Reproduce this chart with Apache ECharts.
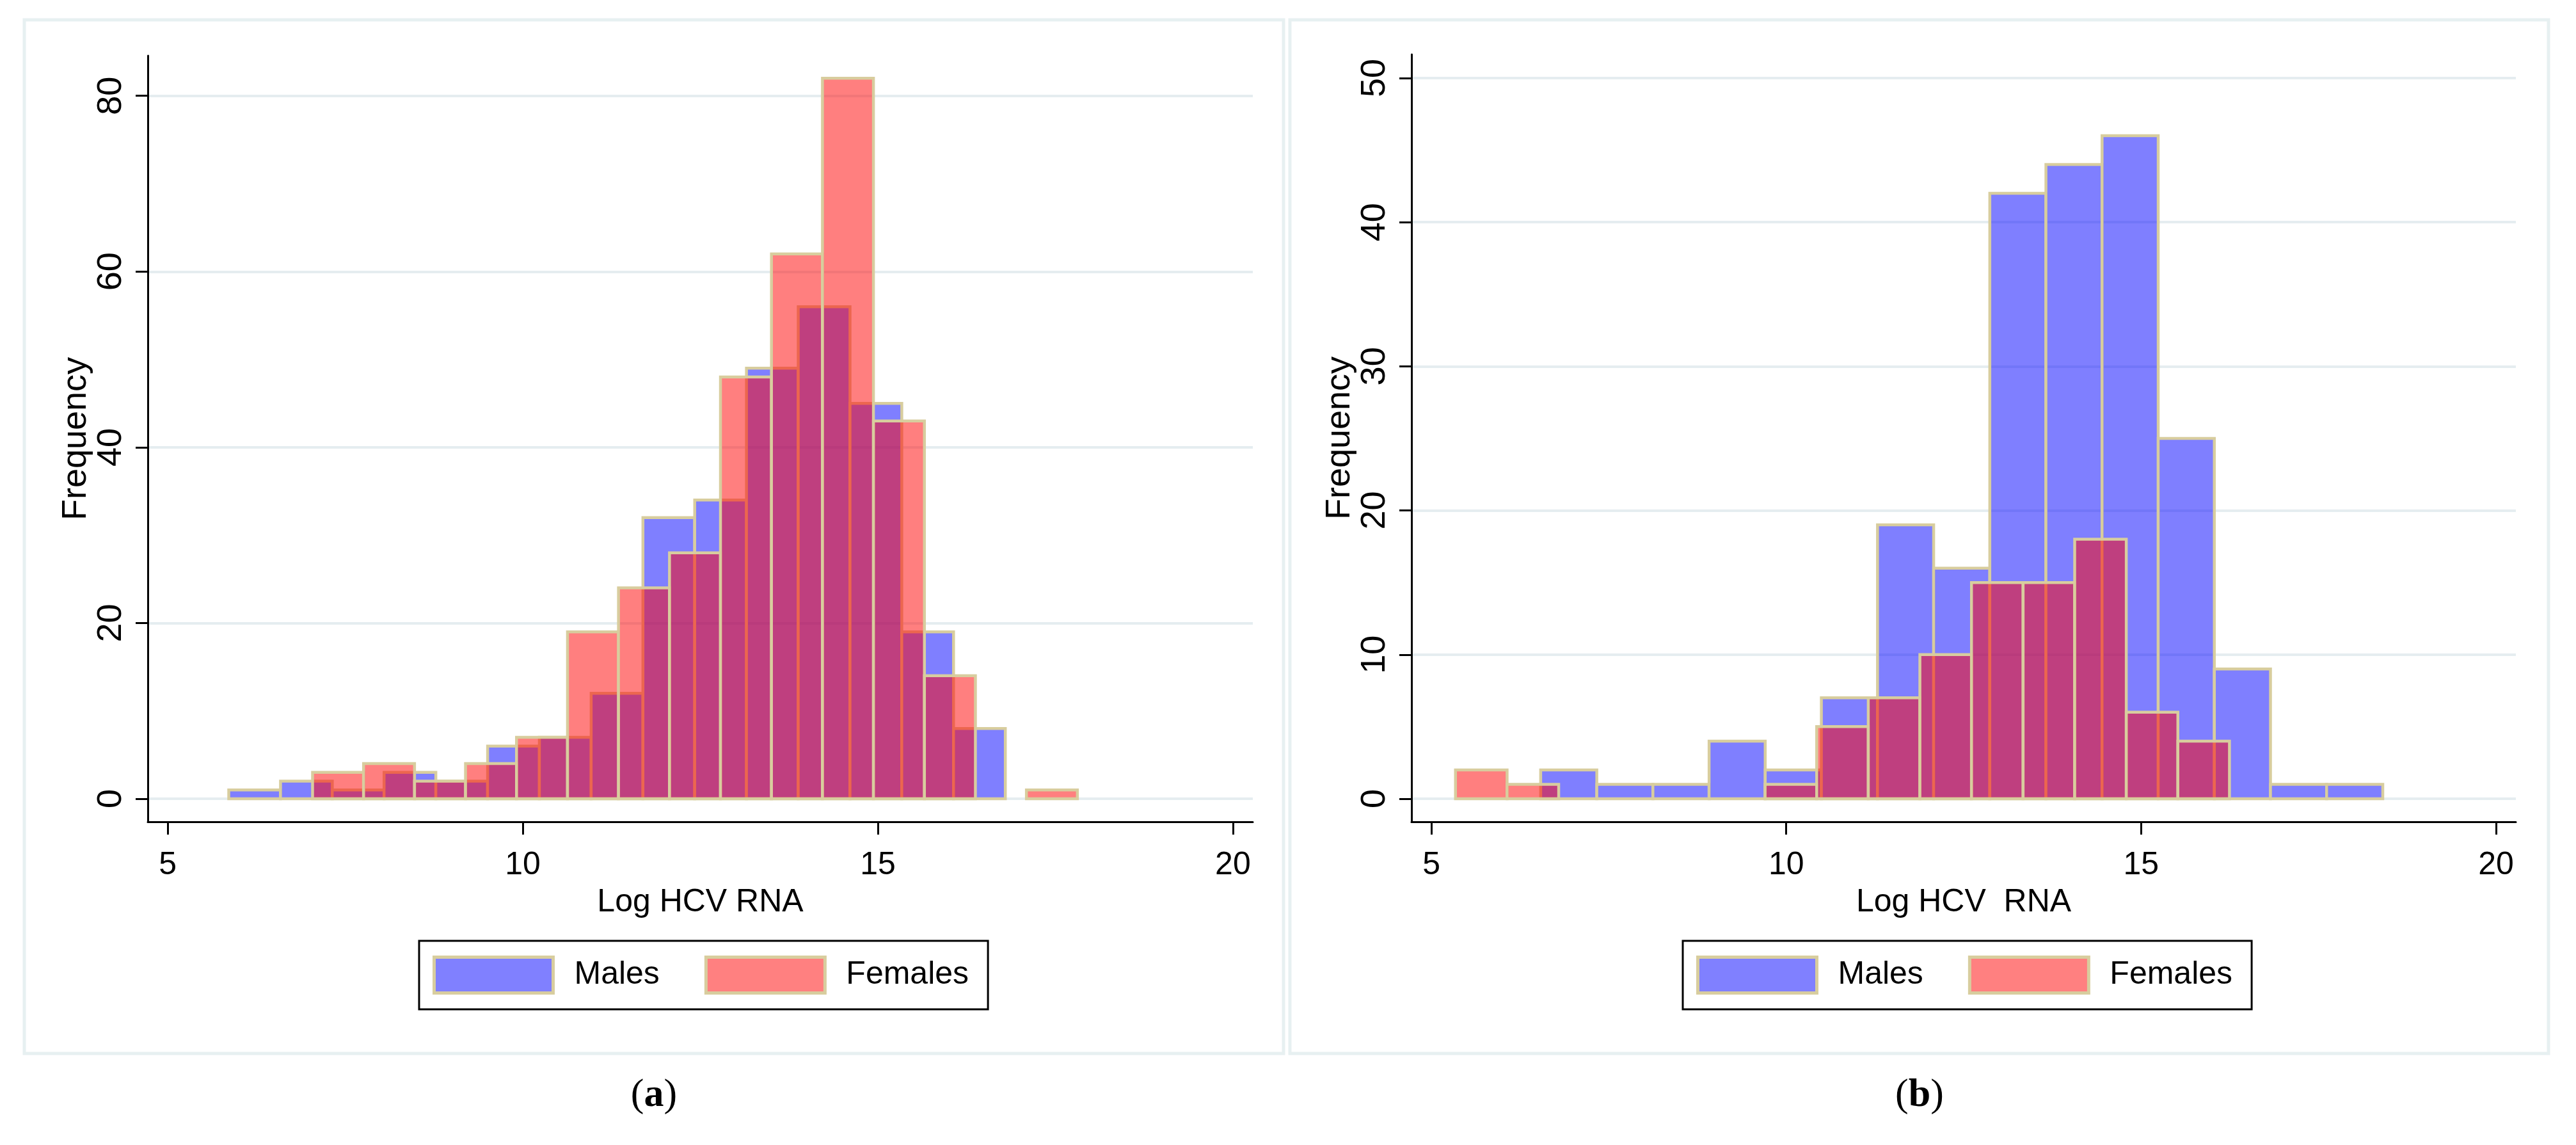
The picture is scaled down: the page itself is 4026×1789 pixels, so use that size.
<!DOCTYPE html>
<html>
<head>
<meta charset="utf-8">
<script src="https://cdn.jsdelivr.net/npm/echarts@6/dist/echarts.min.js"></script>
<style>
html,body{margin:0;padding:0;background:#fff;}
#chart{width:4026px;height:1789px;}
</style>
</head>
<body>
<div id="chart"></div>
<script>
// ---- Data ----
// Panel (a)
const aMaleStart = 5.86, aMaleWidth = 0.729;
const aMaleCounts = [1, 2, 1, 3, 2, 6, 7, 12, 32, 34, 49, 56, 45, 19, 8];
const aFemaleStart = 7.04, aFemaleWidth = 0.718;
const aFemaleCounts = [3, 4, 2, 4, 7, 19, 24, 28, 48, 62, 82, 43, 14, 0, 1];
// Panel (b)
const bMaleStart = 6.54, bMaleWidth = 0.791;
const bMaleCounts = [2, 1, 1, 4, 2, 7, 19, 16, 42, 44, 46, 25, 9, 1, 1];
const bFemaleStart = 5.34, bFemaleWidth = 0.727;
const bFemaleCounts = [2, 1, 0, 0, 0, 0, 1, 5, 7, 10, 15, 15, 18, 6, 4];

const xTicks = [5, 10, 15, 20];
const aYTicks = [0, 20, 40, 60, 80];
const bYTicks = [0, 10, 20, 30, 40, 50];
const seriesNames = ['Males', 'Females'];
const xTitleA = 'Log HCV RNA';
const xTitleB = 'Log HCV  RNA';
const yTitle = 'Frequency';

// ---- Styles ----
const MALE_FILL = 'rgba(0,0,255,0.5)';
const FEMALE_FILL = 'rgba(255,0,0,0.5)';
const OUTLINE = '#d8cd9e';
const GRID_COLOR = '#e5edf0';
const SANS = '"Liberation Sans",Arial,sans-serif';
const H_SIZE = 50;

function bins(start, width, counts) {
  return counts.map((c, i) => [start + i * width, start + (i + 1) * width, c]);
}

function render(fill) {
  return function (params, api) {
    const c = api.value(2);
    if (!(c > 0)) return null;
    const p0 = api.coord([api.value(0), 0]);
    const p1 = api.coord([api.value(1), c]);
    return {
      type: 'rect',
      shape: { x: p0[0], y: p1[1], width: p1[0] - p0[0], height: p0[1] - p1[1] },
      style: { fill: fill, stroke: OUTLINE, lineWidth: 4.5 }
    };
  };
}

function xAxisCfg(gridIndex, name) {
  return {
    type: 'value', gridIndex: gridIndex, min: 4.72, max: 20.28,
    name: name, nameLocation: 'middle', nameGap: 101,
    nameTextStyle: { fontFamily: SANS, fontSize: H_SIZE, color: '#000' },
    axisLine: { show: true, onZero: false, lineStyle: { color: '#000', width: 3 } },
    axisTick: { show: true, length: 20, customValues: xTicks, lineStyle: { color: '#000', width: 3 } },
    axisLabel: { customValues: xTicks, margin: 43, fontFamily: SANS, fontSize: H_SIZE, color: '#000' },
    splitLine: { show: false }
  };
}

function yAxisCfg(gridIndex, min, max, ticks) {
  return {
    type: 'value', gridIndex: gridIndex, min: min, max: max,
    name: yTitle, nameLocation: 'middle', nameGap: 82, nameRotate: 90,
    nameTextStyle: { fontFamily: SANS, fontSize: 54, color: '#000' },
    axisLine: { show: true, onZero: false, lineStyle: { color: '#000', width: 3 } },
    axisTick: { show: true, length: 19, customValues: ticks, lineStyle: { color: '#000', width: 3 } },
    axisLabel: { customValues: ticks, rotate: 90, margin: 30, fontFamily: SANS, fontSize: 54, color: '#000' },
    splitLine: { show: true, lineStyle: { color: GRID_COLOR, width: 4 } }
  };
}

function legendCfg(left) {
  return {
    left: left, top: 1470, orient: 'horizontal',
    padding: [23, 30, 23, 21], itemWidth: 186, itemHeight: 56, itemGap: 70,
    borderColor: '#000', borderWidth: 3, icon: 'rect',
    textStyle: { fontFamily: SANS, fontSize: H_SIZE, color: '#000', padding: [0, 0, 0, 28] },
    selectedMode: false,
    data: [
      { name: 'Males', itemStyle: { color: '#8080ff', borderColor: OUTLINE, borderWidth: 5 } },
      { name: 'Females', itemStyle: { color: '#ff8080', borderColor: OUTLINE, borderWidth: 5 } }
    ]
  };
}

const chart = echarts.init(document.getElementById('chart'), null, { renderer: 'canvas' });
chart.setOption({
  backgroundColor: '#ffffff',
  animation: false,
  grid: [
    { left: 231, top: 87, width: 1727, height: 1197 },
    { left: 2206, top: 85, width: 1726, height: 1199 }
  ],
  xAxis: [xAxisCfg(0, xTitleA), xAxisCfg(1, xTitleB)],
  yAxis: [yAxisCfg(0, -2.62, 84.57, aYTicks), yAxisCfg(1, -1.6, 51.64, bYTicks)],
  legend: [legendCfg(655), legendCfg(2630)],
  series: [
    { name: seriesNames[0], type: 'custom', xAxisIndex: 0, yAxisIndex: 0, renderItem: render(MALE_FILL),
      encode: { x: [0, 1], y: 2 }, data: bins(aMaleStart, aMaleWidth, aMaleCounts), itemStyle: { color: '#8080ff' } },
    { name: seriesNames[1], type: 'custom', xAxisIndex: 0, yAxisIndex: 0, renderItem: render(FEMALE_FILL),
      encode: { x: [0, 1], y: 2 }, data: bins(aFemaleStart, aFemaleWidth, aFemaleCounts), itemStyle: { color: '#ff8080' } },
    { name: seriesNames[0], type: 'custom', xAxisIndex: 1, yAxisIndex: 1, renderItem: render(MALE_FILL),
      encode: { x: [0, 1], y: 2 }, data: bins(bMaleStart, bMaleWidth, bMaleCounts), itemStyle: { color: '#8080ff' } },
    { name: seriesNames[1], type: 'custom', xAxisIndex: 1, yAxisIndex: 1, renderItem: render(FEMALE_FILL),
      encode: { x: [0, 1], y: 2 }, data: bins(bFemaleStart, bFemaleWidth, bFemaleCounts), itemStyle: { color: '#ff8080' } }
  ],
  graphic: [
    { type: 'rect', shape: { x: 38, y: 31, width: 1968, height: 1615 }, style: { fill: 'none', stroke: '#e7f0f1', lineWidth: 5 }, silent: true, z: -1 },
    { type: 'rect', shape: { x: 2016, y: 31, width: 1967, height: 1615 }, style: { fill: 'none', stroke: '#e7f0f1', lineWidth: 5 }, silent: true, z: -1 },
    { type: 'text', x: 1022, y: 1712, style: { text: '({b|a})', fontFamily: '"Liberation Serif","Times New Roman",serif', fontSize: 62, fill: '#000', align: 'center', verticalAlign: 'middle',
        rich: { b: { fontFamily: '"Liberation Serif","Times New Roman",serif', fontSize: 62, fontWeight: 'bold', fill: '#000' } } } },
    { type: 'text', x: 3000, y: 1712, style: { text: '({b|b})', fontFamily: '"Liberation Serif","Times New Roman",serif', fontSize: 62, fill: '#000', align: 'center', verticalAlign: 'middle',
        rich: { b: { fontFamily: '"Liberation Serif","Times New Roman",serif', fontSize: 62, fontWeight: 'bold', fill: '#000' } } } }
  ]
});
</script>
</body>
</html>
